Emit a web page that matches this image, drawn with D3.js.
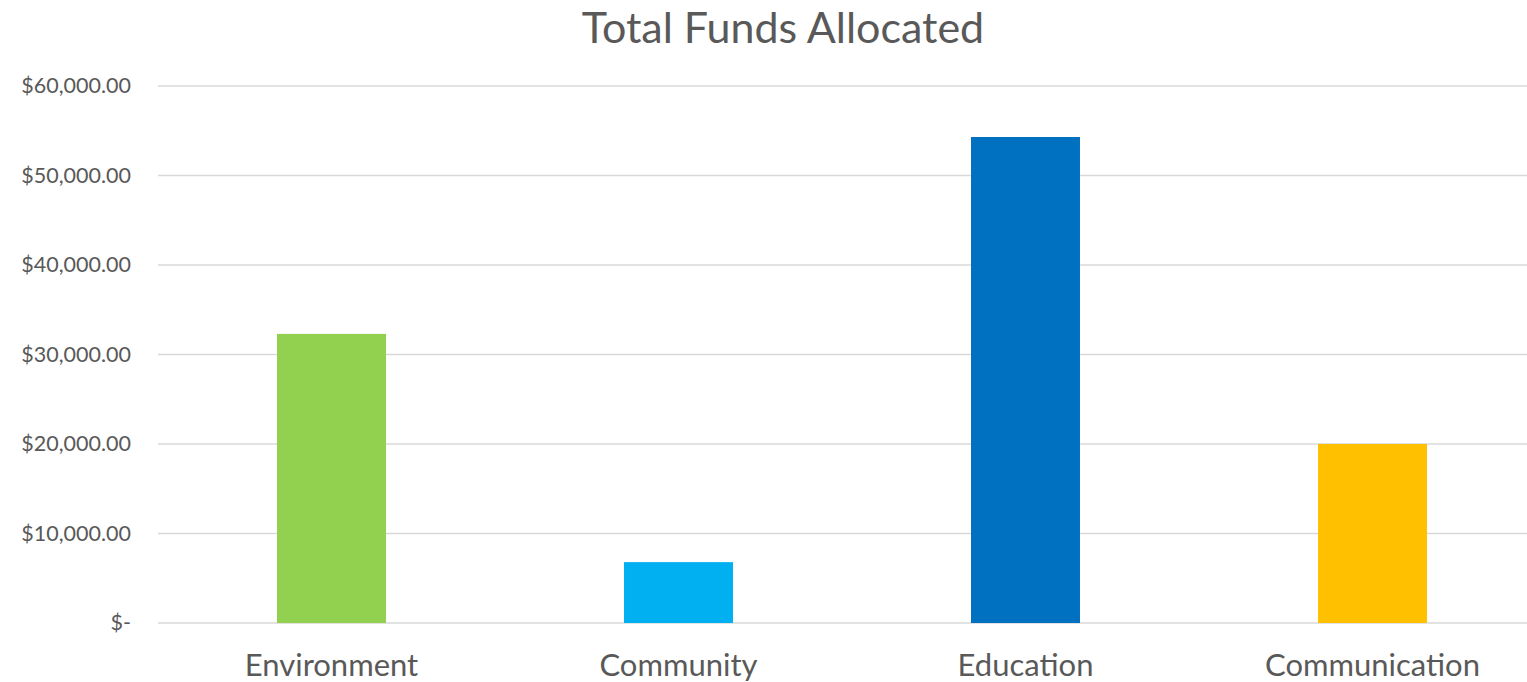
<!DOCTYPE html>
<html>
<head>
<meta charset="utf-8">
<script src="https://cdn.jsdelivr.net/npm/d3@7"></script>
<style>
  body{margin:0;background:#fff;}
  text{font-family:"Lato","Noto Sans",sans-serif;fill:#595959;}
</style>
</head>
<body>
<div id="chart"></div>
<script>
// data
const categories=["Environment","Community","Education","Communication"];
const funds=[32300,6800,54300,20000];
const colors=["#92d050","#00b0f0","#0070c0","#ffc000"];
const ticks=[0,10000,20000,30000,40000,50000,60000];

const w=1527;
const h=682;

const svg=d3.select("#chart")
            .append("svg")
            .attr("width",w)
            .attr("height",h);

const x=d3.scaleBand()
          .domain(categories)
          .range([158,1546])
          .paddingInner(0.686)
          .paddingOuter(0.343);

const y=d3.scaleLinear()
          .domain([0,60000])
          .range([623,86]);

const fmt=(v)=>v===0?"$-":"$"+d3.format(",.2f")(v);

//gridlines
svg.append("g")
   .selectAll("line")
   .data(ticks)
   .enter()
   .append("line")
   .attr("x1",158)
   .attr("x2",w)
   .attr("y1",d=>y(d))
   .attr("y2",d=>y(d))
   .attr("stroke","#d9d9d9")
   .attr("stroke-width",1.5);

//y labels
svg.append("g")
   .selectAll("text")
   .data(ticks)
   .enter()
   .append("text")
   .attr("x",131)
   .attr("y",d=>y(d)+7)
   .attr("text-anchor","end")
   .attr("font-size","21.5px")
   .text(d=>fmt(d));

//bars
svg.append("g")
   .selectAll("rect")
   .data(funds)
   .enter()
   .append("rect")
   .attr("x",(d,i)=>x(categories[i]))
   .attr("y",d=>y(d))
   .attr("width",x.bandwidth())
   .attr("height",d=>y(0)-y(d))
   .style("fill",(d,i)=>colors[i]);

//category labels
svg.append("g")
   .selectAll("text")
   .data(categories)
   .enter()
   .append("text")
   .attr("x",d=>x(d)+x.bandwidth()/2)
   .attr("y",676)
   .attr("text-anchor","middle")
   .attr("font-size","31px")
   .text(d=>d);

//title
svg.append("text")
   .attr("x",783)
   .attr("y",43)
   .attr("text-anchor","middle")
   .attr("font-size","43px")
   .text("Total Funds Allocated");
</script>
</body>
</html>
